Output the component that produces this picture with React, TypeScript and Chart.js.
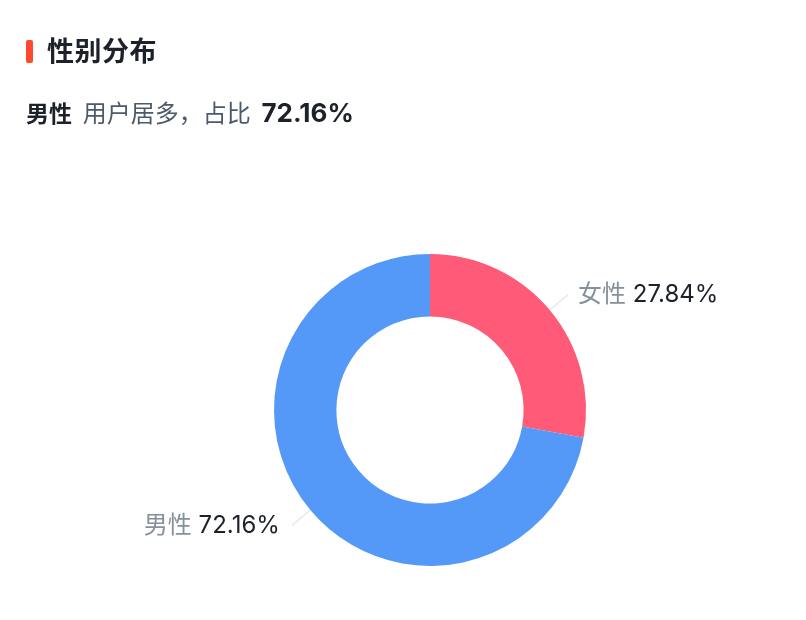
import React, { useEffect, useRef } from 'react';
import { Chart, registerables } from 'chart.js';

Chart.register(...registerables);

const genders = ['女性', '男性'];
const shares = [27.84, 72.16];
const colors = ['#FF5B79', '#5599F8'];

const FONT = "Inter, 'Noto Sans CJK SC', sans-serif";

const leaderLabels = {
    id: 'leaderLabels',
    afterDatasetsDraw(chart: any) {
        const ctx = chart.ctx;
        const meta = chart.getDatasetMeta(0);
        meta.data.forEach((arc: any, i: number) => {
            const mid = (arc.startAngle + arc.endAngle) / 2;
            const cos = Math.cos(mid);
            const sin = Math.sin(mid);
            const r0 = arc.outerRadius;
            const r1 = arc.outerRadius + 24;
            const x0 = arc.x + cos * r0;
            const y0 = arc.y + sin * r0;
            const x1 = arc.x + cos * r1;
            const y1 = arc.y + sin * r1;
            ctx.save();
            ctx.strokeStyle = '#E5E8EF';
            ctx.lineWidth = 1.5;
            ctx.beginPath();
            ctx.moveTo(x0, y0);
            ctx.lineTo(x1, y1);
            ctx.stroke();

            const name = genders[i] + ' ';
            const value = shares[i].toFixed(2) + '%';
            ctx.font = `24px ${FONT}`;
            ctx.textBaseline = 'middle';
            const nameW = ctx.measureText(name).width;
            const valueW = ctx.measureText(value).width;
            const right = cos >= 0;
            const startX = right ? x1 + 10 : x1 - 12 - nameW - valueW;
            ctx.textAlign = 'left';
            ctx.fillStyle = '#86909C';
            ctx.fillText(name, startX, y1);
            ctx.fillStyle = '#1D2129';
            ctx.fillText(value, startX + nameW, y1);
            ctx.restore();
        });
    },
};

function GenderChart() {
    const chartRef = useRef<HTMLCanvasElement | null>(null);
    const chartInstance = useRef<Chart | null>(null);

    useEffect(() => {
        if (chartRef.current) {
            if (chartInstance.current) {
                chartInstance.current.destroy();
            }
            const ctx = chartRef.current.getContext('2d');
            if (ctx) {
                chartInstance.current = new Chart(ctx, {
                    type: 'doughnut',
                    data: {
                        labels: genders,
                        datasets: [{
                            data: shares,
                            backgroundColor: colors,
                            borderWidth: 0,
                        }],
                    },
                    options: {
                        responsive: false,
                        animation: false,
                        cutout: '60%',
                        layout: {
                            padding: { left: 274, right: 220, top: 254, bottom: 54 },
                        },
                        plugins: {
                            legend: { display: false },
                            tooltip: { enabled: false },
                        },
                    },
                    plugins: [leaderLabels],
                });
            }
        }
        return () => {
            if (chartInstance.current) {
                chartInstance.current.destroy();
                chartInstance.current = null;
            }
        };
    }, []);

    return <canvas ref={chartRef} width={806} height={620} style={{ position: 'absolute', left: 0, top: 0 }} />;
}

export default function App() {
    return (
        <div style={{ position: 'fixed', left: 0, top: 0, width: 806, height: 620, background: '#fff', fontFamily: FONT }}>
            <GenderChart />
            <div style={{ position: 'absolute', left: 26, top: 40, width: 7, height: 23, borderRadius: 2, background: '#FF4A2E' }} />
            <div style={{ position: 'absolute', left: 47, top: 33, fontSize: 27, lineHeight: '38px', fontWeight: 600, color: '#1D2129', letterSpacing: 0.5 }}>
                性别分布
            </div>
            <div style={{ position: 'absolute', left: 26, top: 96, lineHeight: '34px', color: '#1D2129', whiteSpace: 'nowrap' }}>
                <span style={{ fontSize: 23, fontWeight: 700 }}>男性</span>
                <span style={{ fontSize: 24, color: '#4E5969', marginLeft: 4 }}> 用户居多，占比 </span>
                <span style={{ fontSize: 26, fontWeight: 700, marginLeft: 4 }}>72.16%</span>
            </div>
        </div>
    );
}
